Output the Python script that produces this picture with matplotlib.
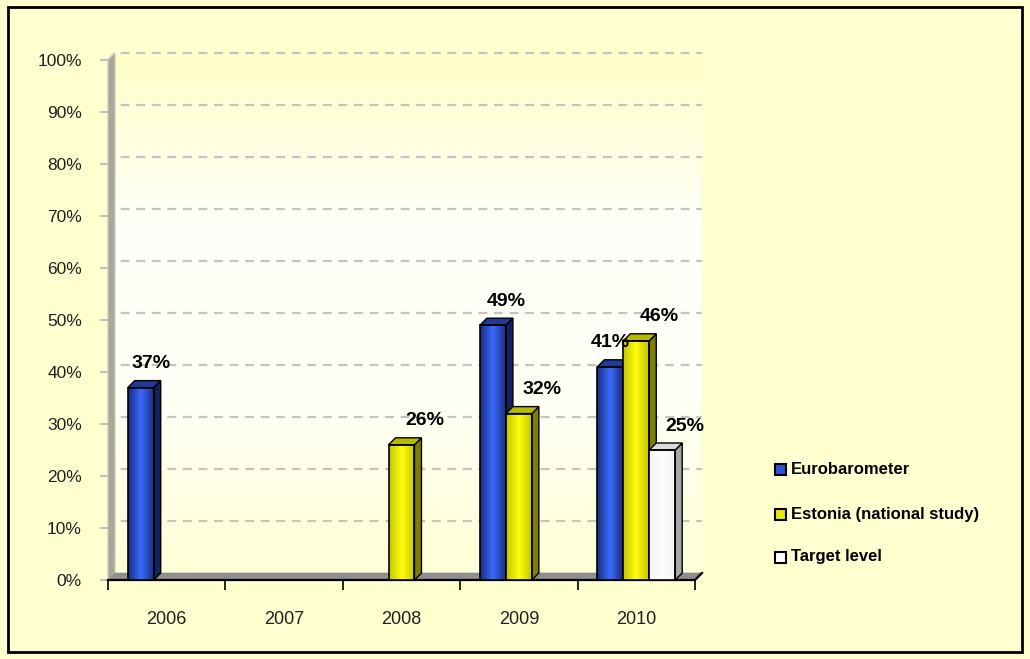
import matplotlib
matplotlib.use('Agg')
import matplotlib.pyplot as plt
import numpy as np
from matplotlib.patches import Polygon, Rectangle
from matplotlib.colors import LinearSegmentedColormap, to_rgb

plt.rcParams['font.family'] = ['Liberation Sans', 'DejaVu Sans']

# data
years = ['2006', '2007', '2008', '2009', '2010']
eurobarometer = [37, np.nan, np.nan, 49, 41]
estonia = [np.nan, np.nan, 26, 32, 46]
target = [np.nan, np.nan, np.nan, np.nan, 25]
series_names = ['Eurobarometer', 'Estonia (national study)', 'Target level']
y_ticks = [0, 10, 20, 30, 40, 50, 60, 70, 80, 90, 100]

# styles: (dark edge, bright centre, side face, top face)
styles = [
    ('#1a2d80', '#3a6cff', '#13245c', '#1f3a98'),
    ('#c4c400', '#ffff10', '#7e7e00', '#b8b800'),
    ('#f4f4f4', '#ffffff', '#a6a6a6', '#dcdcdc'),
]
legend_cols = ['#2d55d8', '#e8e800', '#ffffff']
# label nudges in pixels (series, year index)
nudge = {(0, 0): 10, (0, 3): 13, (0, 4): 0}

W, H = 1030, 659
fig = plt.figure(figsize=(W / 100, H / 100), dpi=100)
fig.patch.set_facecolor('#ffffcf')

# outer border
fig.patches.append(Rectangle((8 / W, 7 / H), 1014 / W, 645 / H, transform=fig.transFigure,
                             fill=False, ec='black', lw=2))

ax = fig.add_axes([108 / W, (H - 580) / H, 587 / W, 520 / H])
ax.patch.set_visible(False)
x0, x1 = -0.5, 4.5
dx, dy = 7 / 117.4, 7 / 5.2
bw = 0.221

# back wall gradient (yellow - white - yellow)
wall = LinearSegmentedColormap.from_list('wall', ['#ffffc8', '#fffffa', '#fffff6', '#ffffd6'])
img = wall(np.linspace(0, 1, 128))[:, None, :3].repeat(2, axis=1)
ax.imshow(img, extent=(x0 + dx, x1 + dx, dy, 100 + dy), aspect='auto', zorder=0,
          clip_on=False, interpolation='bilinear', origin='upper')

# grid lines on the wall
for v in y_ticks[1:]:
    ax.plot([x0, x0 + dx, x1 + dx], [v, v + dy, v + dy], color='#c4c4c4', lw=1.6,
            ls=(0, (4, 3)), zorder=1, clip_on=False)

# left wall and floor
ax.add_patch(Polygon([(x0, 0), (x0, 100), (x0 + dx, 100 + dy), (x0 + dx, dy)],
                     closed=True, fc='#a9a99a', ec='#c8c8c0', lw=0.8, zorder=2, clip_on=False))
ax.add_patch(Polygon([(x0, 0), (x1, 0), (x1 + dx, dy), (x0 + dx, dy)],
                     closed=True, fc='#8e8e8e', ec='#8e8e8e', lw=0.5, zorder=2, clip_on=False))
ax.plot([x0, x1, x1 + dx], [0, 0, dy], color='black', lw=1.6, zorder=3, clip_on=False)

# bars
all_series = [eurobarometer, estonia, target]
for s, vals in enumerate(all_series):
    dark, bright, side, topc = styles[s]
    cmap = LinearSegmentedColormap.from_list('g%d' % s, [dark, bright, dark])
    off = (s - 1) * bw
    for i, v in enumerate(vals):
        if np.isnan(v):
            continue
        z = 5 + s * 3
        left = i + off - bw / 2
        right = left + bw
        row = cmap(np.linspace(0, 1, 64))[None, :, :3]
        ax.imshow(row, extent=(left, right, 0, v), aspect='auto', zorder=z,
                  interpolation='bilinear')
        ax.add_patch(Rectangle((left, 0), bw, v, fill=False, ec='black', lw=1.2, zorder=z + 0.5))
        ax.add_patch(Polygon([(right, 0), (right + dx, dy), (right + dx, v + dy), (right, v)],
                             closed=True, fc=side, ec='black', lw=1, zorder=z + 0.4))
        ax.add_patch(Polygon([(left, v), (left + dx, v + dy), (right + dx, v + dy), (right, v)],
                             closed=True, fc=topc, ec='black', lw=1, zorder=z + 0.4))
        px = nudge.get((s, i), 23) / 117.4
        ax.text(i + off + px, v + 4.6, '%d%%' % v, ha='center', va='center',
                fontsize=14, fontweight='bold', zorder=20)

ax.set_xlim(x0, x1)
ax.set_ylim(0, 100)
for sp in ax.spines.values():
    sp.set_visible(False)

ax.set_yticks(y_ticks)
ax.set_yticklabels(['%d%%' % v for v in y_ticks], fontsize=12.5, color='#202020')
ax.tick_params(axis='y', length=5.8, width=1.2, color='#b4b4b4', pad=13)

ax.set_xticks(range(len(years)))
ax.set_xticklabels(years, fontsize=13, color='#202020')
ax.set_xticks(np.arange(x0, x1 + 0.5, 1), minor=True)
ax.tick_params(axis='x', which='major', length=0, pad=22)
ax.tick_params(axis='x', which='minor', length=7, width=1.2, color='black')

# legend
rows = [469, 514, 557]
for k, name in enumerate(series_names):
    yc = rows[k]
    fig.patches.append(Rectangle((775 / W, (H - yc - 6) / H), 11 / W, 11 / H,
                                 transform=fig.transFigure, fc=legend_cols[k], ec='black', lw=1.5))
    fig.text(791 / W, (H - yc) / H, name, fontsize=12, fontweight='bold', va='center', ha='left')

fig.savefig('out.png', dpi=100, facecolor=fig.get_facecolor())
